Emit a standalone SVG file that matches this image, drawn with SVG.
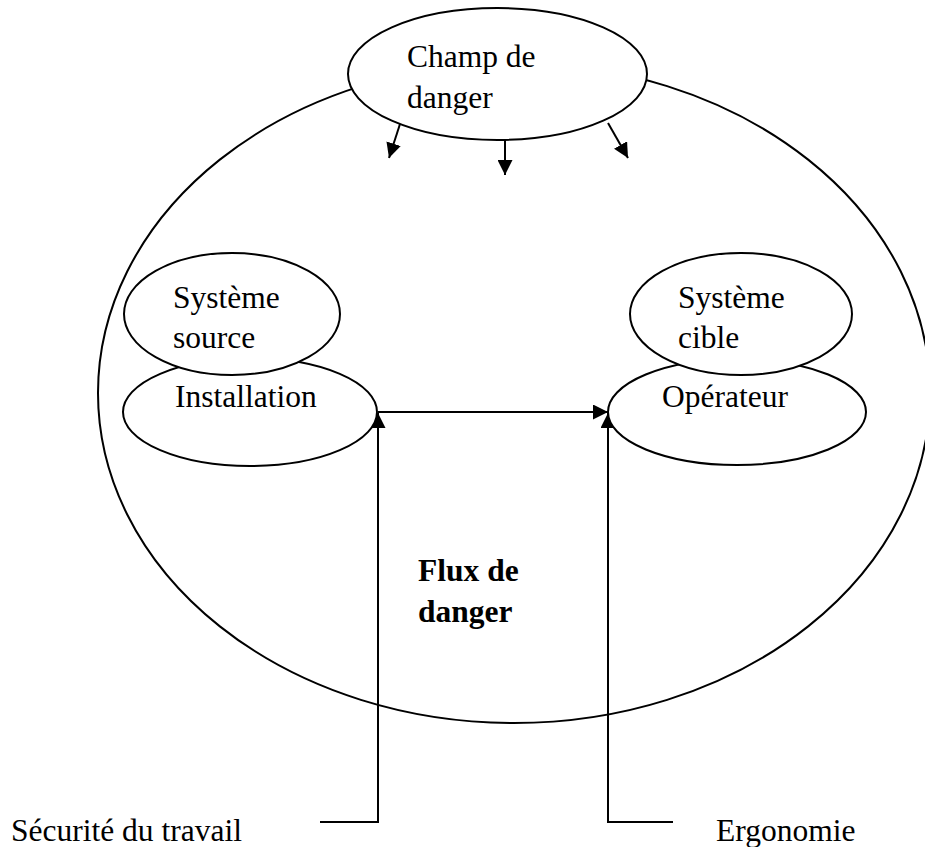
<svg xmlns="http://www.w3.org/2000/svg" width="925" height="847" viewBox="0 0 925 847">
  <style>
    .shape { fill: #ffffff; stroke: #000000; stroke-width: 2; }
    .label { font-family: "Liberation Serif", "Times New Roman", serif; font-size: 31.5px; fill: #000000; }
    .bold { font-weight: bold; }
    .wire { fill: none; stroke: #000000; stroke-width: 2; }
  </style>
  <defs>
    <marker id="head" viewBox="0 0 14 14" refX="14" refY="7" markerWidth="15" markerHeight="15" markerUnits="userSpaceOnUse" orient="auto">
      <path d="M0,0 L14,7 L0,14 Z" fill="#000000"/>
    </marker>
  </defs>

  <rect width="925" height="847" fill="#ffffff"/>

  <!-- enclosing work system -->
  <g id="systeme">
    <ellipse class="shape" cx="514" cy="393" rx="416" ry="330"/>
  </g>

  <!-- connectors -->
  <g id="connectors">
    <line class="wire" x1="400" y1="124" x2="389" y2="158" marker-end="url(#head)"/>
    <line class="wire" x1="505" y1="140" x2="505" y2="175" marker-end="url(#head)"/>
    <line class="wire" x1="608" y1="123" x2="628" y2="158" marker-end="url(#head)"/>
    <line class="wire" x1="378" y1="412" x2="608" y2="412" marker-end="url(#head)"/>
    <polyline class="wire" points="320,822 378,822 378,413" marker-end="url(#head)"/>
    <polyline class="wire" points="673,822 608,822 608,413" marker-end="url(#head)"/>
  </g>

  <g id="champ">
    <ellipse class="shape" cx="497.5" cy="74" rx="149.5" ry="66"/>
    <text class="label" x="407" y="67">Champ de</text>
    <text class="label" x="407" y="108">danger</text>
  </g>

  <g id="installation">
    <ellipse class="shape" cx="250" cy="412" rx="127" ry="54"/>
    <text class="label" x="175" y="407">Installation</text>
  </g>

  <g id="systeme-source">
    <ellipse class="shape" cx="232" cy="314" rx="108" ry="61"/>
    <text class="label" x="173" y="308">Système</text>
    <text class="label" x="173" y="348">source</text>
  </g>

  <g id="operateur">
    <ellipse class="shape" cx="737" cy="412" rx="129" ry="53"/>
    <text class="label" x="662" y="407">Opérateur</text>
  </g>

  <g id="systeme-cible">
    <ellipse class="shape" cx="741" cy="314" rx="111" ry="61"/>
    <text class="label" x="678" y="308">Système</text>
    <text class="label" x="678" y="348">cible</text>
  </g>

  <g id="flux">
    <text class="label bold" x="418" y="581">Flux de</text>
    <text class="label bold" x="418" y="622">danger</text>
  </g>

  <g id="securite">
    <text class="label" x="11" y="841">Sécurité du travail</text>
  </g>

  <g id="ergonomie">
    <text class="label" x="716" y="841">Ergonomie</text>
  </g>
</svg>
